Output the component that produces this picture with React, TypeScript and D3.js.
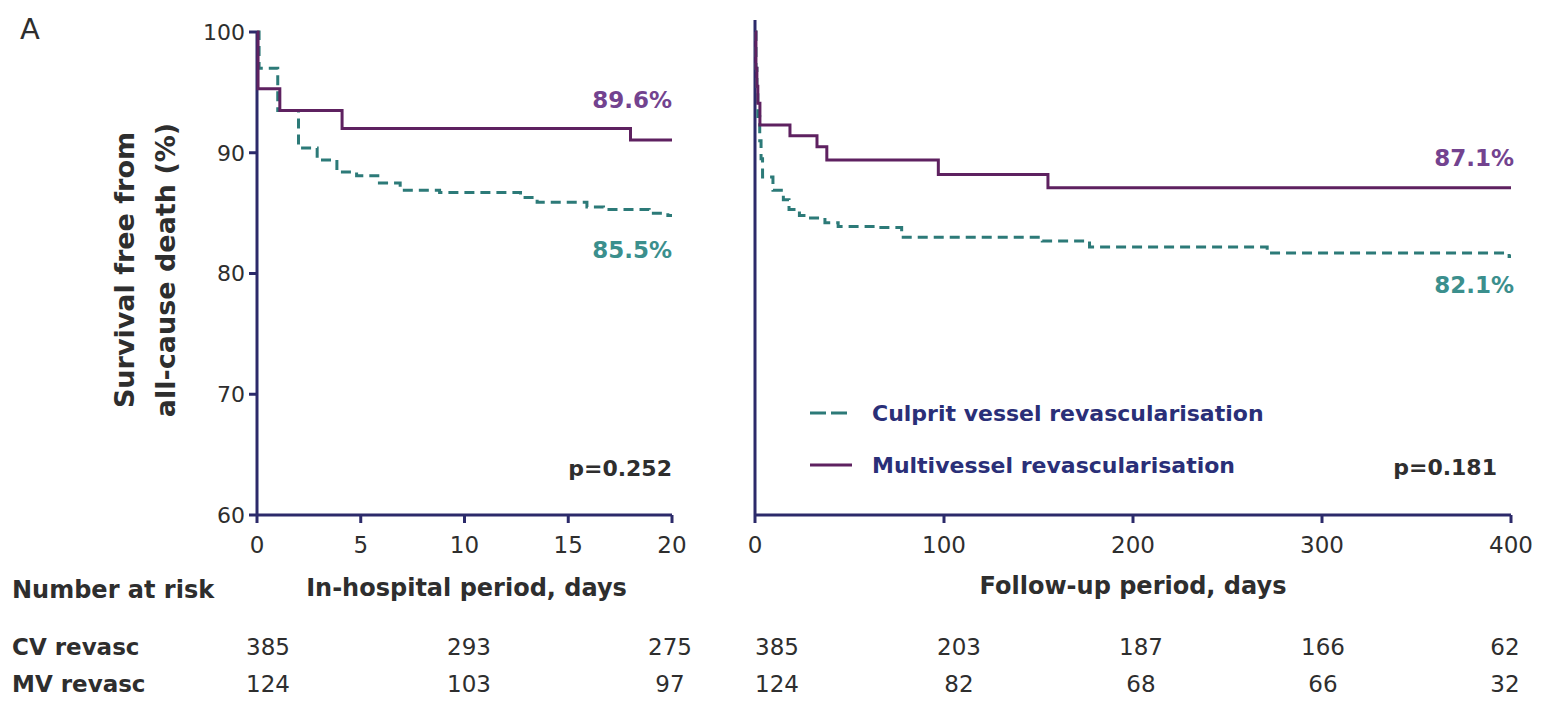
import React from "react";
import * as d3 from "d3";

// ---- Data ----
// Kaplan-Meier steps: [time (days), survival %]
const inHospitalCV: [number, number][] = [
  [0, 100], [0.1, 97.0], [1.0, 93.5], [2.0, 90.4], [2.9, 89.4], [3.85, 88.4],
  [4.8, 88.1], [5.9, 87.5], [6.9, 86.9], [8.8, 86.7], [12.7, 86.3], [13.5, 85.9],
  [15.9, 85.5], [16.7, 85.3], [18.9, 85.0], [19.8, 84.8], [20, 84.8],
];
const inHospitalMV: [number, number][] = [
  [0, 100], [0.05, 95.3], [1.1, 93.5], [4.1, 92.0], [18.0, 91.05], [20, 91.05],
];
const followUpCV: [number, number][] = [
  [0, 100], [0.5, 97], [1, 95], [1.5, 93], [2.5, 91], [3.2, 89.5], [4, 88.0],
  [9.5, 86.9], [15, 86.1], [18, 85.3], [23.5, 84.8], [27, 84.6], [37, 84.2],
  [44, 83.9], [65, 83.8], [77.6, 83.0], [152, 82.7], [177, 82.2], [271, 81.7],
  [399, 81.4], [400, 81.4],
];
const followUpMV: [number, number][] = [
  [0, 100], [0.5, 97], [1, 95.5], [1.5, 94.1], [2.6, 92.3], [18.5, 91.4],
  [32.8, 90.5], [38, 89.4], [97, 88.2], [155, 87.1], [400, 87.1],
];

const yTicks = [60, 70, 80, 90, 100];
const xTicksLeft = [0, 5, 10, 15, 20];
const xTicksRight = [0, 100, 200, 300, 400];

const riskColsLeft = ["0", "10", "20"];
const riskColsRight = ["0", "100", "200", "300", "400"];
const riskCVLeft = [385, 293, 275];
const riskMVLeft = [124, 103, 97];
const riskCVRight = [385, 203, 187, 166, 62];
const riskMVRight = [124, 82, 68, 66, 32];

const labelsLeft = { mv: "89.6%", cv: "85.5%", p: "p=0.252" };
const labelsRight = { mv: "87.1%", cv: "82.1%", p: "p=0.181" };
const legendItems = ["Culprit vessel revascularisation", "Multivessel revascularisation"];

// ---- Styles ----
const FONT = "'DejaVu Sans', sans-serif";
const AXIS = "#2c2a6a";
const PURPLE = "#5e2160";
const TEAL = "#2c7a78";
const PURPLE_TXT = "#73438f";
const TEAL_TXT = "#3b8f8d";
const NAVY_TXT = "#2a2f78";
const DARK = "#2e2e2e";
const DASH = "10,6";

export default function App() {
  const W = 1543, H = 701;
  const y = d3.scaleLinear().domain([60, 100]).range([515, 32]);
  const xL = d3.scaleLinear().domain([0, 20]).range([257, 672]);
  const xR = d3.scaleLinear().domain([0, 400]).range([755, 1511]);

  const lineL = d3.line<[number, number]>().x(d => xL(d[0])).y(d => y(d[1])).curve(d3.curveStepAfter);
  const lineR = d3.line<[number, number]>().x(d => xR(d[0])).y(d => y(d[1])).curve(d3.curveStepAfter);

  const rcL = d3.scalePoint<string>().domain(riskColsLeft).range([268, 670]);
  const rcR = d3.scalePoint<string>().domain(riskColsRight).range([777, 1505]);

  const y0 = y(60);
  const rowCV = 655;
  const rowMV = 692;

  return (
    <svg width={W} height={H} style={{ position: "absolute", left: 0, top: 0, background: "#fff" }} fontFamily={FONT}>
      {/* Panel label */}
      <text x={20} y={39} fontSize={29} fill={DARK}>A</text>

      {/* Y axis title */}
      <g transform={`translate(134, 270) rotate(-90)`} fontSize={27} fontWeight="bold" fill={DARK} textAnchor="middle">
        <text x={0} y={0}>Survival free from</text>
        <text x={0} y={41}>all-cause death (%)</text>
      </g>

      {/* Left axes */}
      <line x1={xL(0)} x2={xL(0)} y1={y(100)} y2={y0} stroke={AXIS} strokeWidth={3} />
      {yTicks.map(t => (
        <g key={"yt" + t}>
          <line x1={xL(0) - 8} x2={xL(0)} y1={y(t)} y2={y(t)} stroke={AXIS} strokeWidth={3} />
          <text x={xL(0) - 12} y={y(t)} dy="0.36em" textAnchor="end" fontSize={22} fill={DARK}>{t}</text>
        </g>
      ))}
      <line x1={xL(0)} x2={xL(20)} y1={y0} y2={y0} stroke={AXIS} strokeWidth={3} />
      {xTicksLeft.map(t => (
        <g key={"xl" + t}>
          <line x1={xL(t)} x2={xL(t)} y1={y0} y2={y0 + 8} stroke={AXIS} strokeWidth={3} />
          <text x={xL(t)} y={553} textAnchor="middle" fontSize={23} fill={DARK}>{t}</text>
        </g>
      ))}
      <text x={(xL(0) + xL(20)) / 2 + 2} y={596} textAnchor="middle" fontSize={24} fontWeight="bold" fill={DARK}>In-hospital period, days</text>

      {/* Right axes */}
      <line x1={xR(0)} x2={xR(0)} y1={20} y2={y0} stroke={AXIS} strokeWidth={3} />
      <line x1={xR(0)} x2={xR(400)} y1={y0} y2={y0} stroke={AXIS} strokeWidth={3} />
      {xTicksRight.map(t => (
        <g key={"xr" + t}>
          <line x1={xR(t)} x2={xR(t)} y1={y0} y2={y0 + 8} stroke={AXIS} strokeWidth={3} />
          <text x={xR(t)} y={553} textAnchor="middle" fontSize={23} fill={DARK}>{t}</text>
        </g>
      ))}
      <text x={(xR(0) + xR(400)) / 2} y={594} textAnchor="middle" fontSize={24} fontWeight="bold" fill={DARK}>Follow-up period, days</text>

      {/* Curves left */}
      <path d={lineL(inHospitalCV) || ""} fill="none" stroke={TEAL} strokeWidth={3} strokeDasharray={DASH} />
      <path d={lineL(inHospitalMV) || ""} fill="none" stroke={PURPLE} strokeWidth={3} />
      {/* Curves right */}
      <path d={lineR(followUpCV) || ""} fill="none" stroke={TEAL} strokeWidth={3} strokeDasharray={DASH} />
      <path d={lineR(followUpMV) || ""} fill="none" stroke={PURPLE} strokeWidth={3} />

      {/* Percent labels */}
      <g fontSize={23} fontWeight="bold" textAnchor="end">
        <text x={xL(20)} y={108} fill={PURPLE_TXT}>{labelsLeft.mv}</text>
        <text x={xL(20)} y={258} fill={TEAL_TXT}>{labelsLeft.cv}</text>
        <text x={xR(400) + 3} y={166} fill={PURPLE_TXT}>{labelsRight.mv}</text>
        <text x={xR(400) + 3} y={293} fill={TEAL_TXT}>{labelsRight.cv}</text>
      </g>

      {/* p values */}
      <g fontSize={22} fontWeight="bold" textAnchor="end" fill={DARK}>
        <text x={xL(20)} y={476}>{labelsLeft.p}</text>
        <text x={1497} y={475}>{labelsRight.p}</text>
      </g>

      {/* Legend */}
      <g>
        <line x1={810} x2={852} y1={413} y2={413} stroke={TEAL} strokeWidth={3} strokeDasharray="16,5" />
        <text x={872} y={421} fontSize={22} fontWeight="bold" fill={NAVY_TXT}>{legendItems[0]}</text>
        <line x1={810} x2={852} y1={465} y2={465} stroke={PURPLE} strokeWidth={3} />
        <text x={872} y={473} fontSize={22} fontWeight="bold" fill={NAVY_TXT}>{legendItems[1]}</text>
      </g>

      {/* Number at risk table */}
      <g fill={DARK}>
        <text x={12} y={598} fontSize={24} fontWeight="bold">Number at risk</text>
        <text x={12} y={rowCV} fontSize={23} fontWeight="bold">CV revasc</text>
        <text x={12} y={rowMV} fontSize={23} fontWeight="bold">MV revasc</text>
        {riskColsLeft.map((c, i) => (
          <g key={"rl" + c} fontSize={23} textAnchor="middle">
            <text x={rcL(c)} y={rowCV}>{riskCVLeft[i]}</text>
            <text x={rcL(c)} y={rowMV}>{riskMVLeft[i]}</text>
          </g>
        ))}
        {riskColsRight.map((c, i) => (
          <g key={"rr" + c} fontSize={23} textAnchor="middle">
            <text x={rcR(c)} y={rowCV}>{riskCVRight[i]}</text>
            <text x={rcR(c)} y={rowMV}>{riskMVRight[i]}</text>
          </g>
        ))}
      </g>
    </svg>
  );
}
